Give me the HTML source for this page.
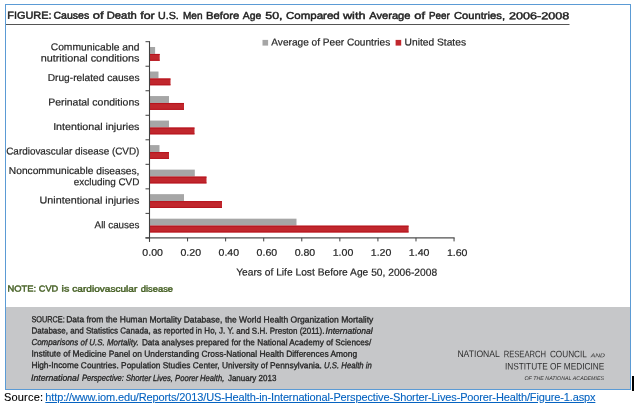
<!DOCTYPE html>
<html lang="en"><head><meta charset="utf-8"><title>FIGURE: Causes of Death for U.S. Men Before Age 50</title>
<style>
html,body{margin:0;padding:0;background:#fff;}
body{width:640px;height:408px;overflow:hidden;position:relative;font-family:"Liberation Sans",sans-serif;}
svg{position:absolute;left:0;top:0;display:block}
text{font-family:"Liberation Sans",sans-serif;}
.src{position:absolute;left:4px;top:390px;font-size:11px;line-height:14px;color:#000;white-space:nowrap;letter-spacing:0px}
.src{-webkit-text-stroke:0.12px currentColor;word-spacing:-0.9px}
.src span{letter-spacing:0.18px}
.src a{color:#0563c1;text-decoration:underline;letter-spacing:-0.133px;-webkit-text-stroke:0.1px #0563c1}
</style></head><body>
<svg width="640" height="408" viewBox="0 0 640 408">
<rect x="5.5" y="4.5" width="625" height="385" fill="#fff" stroke="#5b9bd5" stroke-width="1"/>
<rect x="6" y="307" width="624" height="82" fill="#c6c7c9"/>
<g font-size="10.2" fill="#1f1f1f" stroke="#1f1f1f" stroke-width="0.45"><text transform="rotate(0.04 320 204)" x="7.10" y="19" textLength="44.30" lengthAdjust="spacingAndGlyphs">FIGURE:</text> <text transform="rotate(0.04 320 204)" x="53.35" y="19" textLength="35.80" lengthAdjust="spacingAndGlyphs">Causes</text> <text transform="rotate(0.04 320 204)" x="92.60" y="19" textLength="10.80" lengthAdjust="spacingAndGlyphs">of</text> <text transform="rotate(0.04 320 204)" x="106.60" y="19" textLength="30.05" lengthAdjust="spacingAndGlyphs">Death</text> <text transform="rotate(0.04 320 204)" x="140.10" y="19" textLength="14.55" lengthAdjust="spacingAndGlyphs">for</text> <text transform="rotate(0.04 320 204)" x="157.85" y="19" textLength="20.80" lengthAdjust="spacingAndGlyphs">U.S.</text> <text transform="rotate(0.04 320 204)" x="182.85" y="19" textLength="19.55" lengthAdjust="spacingAndGlyphs">Men</text> <text transform="rotate(0.04 320 204)" x="205.85" y="19" textLength="33.30" lengthAdjust="spacingAndGlyphs">Before</text> <text transform="rotate(0.04 320 204)" x="242.60" y="19" textLength="18.55" lengthAdjust="spacingAndGlyphs">Age</text> <text transform="rotate(0.04 320 204)" x="265.10" y="19" textLength="17.30" lengthAdjust="spacingAndGlyphs">50,</text> <text transform="rotate(0.04 320 204)" x="285.90" y="19" textLength="53.75" lengthAdjust="spacingAndGlyphs">Compared</text> <text transform="rotate(0.04 320 204)" x="342.85" y="19" textLength="22.55" lengthAdjust="spacingAndGlyphs">with</text> <text transform="rotate(0.04 320 204)" x="369.10" y="19" textLength="41.30" lengthAdjust="spacingAndGlyphs">Average</text> <text transform="rotate(0.04 320 204)" x="414.10" y="19" textLength="10.80" lengthAdjust="spacingAndGlyphs">of</text> <text transform="rotate(0.04 320 204)" x="428.85" y="19" textLength="20.80" lengthAdjust="spacingAndGlyphs">Peer</text> <text transform="rotate(0.04 320 204)" x="453.85" y="19" textLength="51.05" lengthAdjust="spacingAndGlyphs">Countries,</text> <text transform="rotate(0.04 320 204)" x="508.85" y="19" textLength="60.30" lengthAdjust="spacingAndGlyphs">2006-2008</text></g>
<rect x="6" y="24" width="563.5" height="1" fill="#555"/>
<rect x="262.5" y="39.9" width="5.6" height="5.7" fill="#a6a6a6"/>
<text transform="rotate(0.04 320 204)" x="271.2" y="45.5" font-size="10" fill="#262626" stroke="#262626" stroke-width="0.2" textLength="118.9" lengthAdjust="spacingAndGlyphs">Average of Peer Countries</text>
<rect x="395.6" y="39.9" width="5.6" height="5.7" fill="#c1272d"/>
<text transform="rotate(0.04 320 204)" x="404.5" y="45.5" font-size="10" fill="#262626" stroke="#262626" stroke-width="0.2" textLength="61.4" lengthAdjust="spacingAndGlyphs">United States</text>
<rect x="149.5" y="47.00" width="5.6" height="6.9" fill="#a6a6a6"/>
<rect x="149.5" y="53.90" width="10.2" height="6.9" fill="#c1272d"/>
<rect x="149.5" y="54.10" width="10.2" height="0.9" fill="#b5121c"/>
<rect x="149.5" y="59.80" width="10.2" height="0.9" fill="#b5121c"/>
<text transform="rotate(0.04 320 204)" x="50.60" y="50.56" font-size="10" fill="#262626" stroke="#262626" stroke-width="0.2" textLength="88.80" lengthAdjust="spacingAndGlyphs">Communicable and</text>
<text transform="rotate(0.04 320 204)" x="40.60" y="61.76" font-size="10" fill="#262626" stroke="#262626" stroke-width="0.2" textLength="98.80" lengthAdjust="spacingAndGlyphs">nutritional conditions</text>
<rect x="149.5" y="71.52" width="9.0" height="6.9" fill="#a6a6a6"/>
<rect x="149.5" y="78.42" width="21.0" height="6.9" fill="#c1272d"/>
<rect x="149.5" y="78.62" width="21.0" height="0.9" fill="#b5121c"/>
<rect x="149.5" y="84.32" width="21.0" height="0.9" fill="#b5121c"/>
<text transform="rotate(0.04 320 204)" x="47.60" y="81.19" font-size="10" fill="#262626" stroke="#262626" stroke-width="0.2" textLength="91.80" lengthAdjust="spacingAndGlyphs">Drug-related causes</text>
<rect x="149.5" y="96.05" width="19.5" height="6.9" fill="#a6a6a6"/>
<rect x="149.5" y="102.95" width="34.5" height="6.9" fill="#c1272d"/>
<rect x="149.5" y="103.15" width="34.5" height="0.9" fill="#b5121c"/>
<rect x="149.5" y="108.85" width="34.5" height="0.9" fill="#b5121c"/>
<text transform="rotate(0.04 320 204)" x="48.10" y="105.71" font-size="10" fill="#262626" stroke="#262626" stroke-width="0.2" textLength="91.30" lengthAdjust="spacingAndGlyphs">Perinatal conditions</text>
<rect x="149.5" y="120.57" width="19.5" height="6.9" fill="#a6a6a6"/>
<rect x="149.5" y="127.47" width="45.0" height="6.9" fill="#c1272d"/>
<rect x="149.5" y="127.67" width="45.0" height="0.9" fill="#b5121c"/>
<rect x="149.5" y="133.38" width="45.0" height="0.9" fill="#b5121c"/>
<text transform="rotate(0.04 320 204)" x="53.10" y="130.24" font-size="10" fill="#262626" stroke="#262626" stroke-width="0.2" textLength="86.30" lengthAdjust="spacingAndGlyphs">Intentional injuries</text>
<rect x="149.5" y="145.10" width="10.0" height="6.9" fill="#a6a6a6"/>
<rect x="149.5" y="152.00" width="19.5" height="6.9" fill="#c1272d"/>
<rect x="149.5" y="152.20" width="19.5" height="0.9" fill="#b5121c"/>
<rect x="149.5" y="157.90" width="19.5" height="0.9" fill="#b5121c"/>
<text transform="rotate(0.04 320 204)" x="6.20" y="154.76" font-size="10" fill="#262626" stroke="#262626" stroke-width="0.2" textLength="133.20" lengthAdjust="spacingAndGlyphs">Cardiovascular disease (CVD)</text>
<rect x="149.5" y="169.62" width="45.3" height="6.9" fill="#a6a6a6"/>
<rect x="149.5" y="176.53" width="57.0" height="6.9" fill="#c1272d"/>
<rect x="149.5" y="176.72" width="57.0" height="0.9" fill="#b5121c"/>
<rect x="149.5" y="182.43" width="57.0" height="0.9" fill="#b5121c"/>
<text transform="rotate(0.04 320 204)" x="8.80" y="174.29" font-size="10" fill="#262626" stroke="#262626" stroke-width="0.2" textLength="130.60" lengthAdjust="spacingAndGlyphs">Noncommunicable diseases,</text>
<text transform="rotate(0.04 320 204)" x="73.80" y="185.49" font-size="10" fill="#262626" stroke="#262626" stroke-width="0.2" textLength="65.60" lengthAdjust="spacingAndGlyphs">excluding CVD</text>
<rect x="149.5" y="194.15" width="34.5" height="6.9" fill="#a6a6a6"/>
<rect x="149.5" y="201.05" width="72.5" height="6.9" fill="#c1272d"/>
<rect x="149.5" y="201.25" width="72.5" height="0.9" fill="#b5121c"/>
<rect x="149.5" y="206.95" width="72.5" height="0.9" fill="#b5121c"/>
<text transform="rotate(0.04 320 204)" x="39.60" y="203.81" font-size="10" fill="#262626" stroke="#262626" stroke-width="0.2" textLength="99.80" lengthAdjust="spacingAndGlyphs">Unintentional injuries</text>
<rect x="149.5" y="218.68" width="147.0" height="6.9" fill="#a6a6a6"/>
<rect x="149.5" y="225.58" width="259.1" height="6.9" fill="#c1272d"/>
<rect x="149.5" y="225.78" width="259.1" height="0.9" fill="#b5121c"/>
<rect x="149.5" y="231.48" width="259.1" height="0.9" fill="#b5121c"/>
<text transform="rotate(0.04 320 204)" x="94.60" y="228.34" font-size="10" fill="#262626" stroke="#262626" stroke-width="0.2" textLength="44.80" lengthAdjust="spacingAndGlyphs">All causes</text>
<path d="M145.5 237.9H454.6" fill="none" stroke="#505050" stroke-width="1.1"/>
<path d="M149.5 41.2V241.9" fill="none" stroke="#404040" stroke-width="1.1"/>
<path d="M145.5 41.70H149.5M145.5 66.22H149.5M145.5 90.75H149.5M145.5 115.27H149.5M145.5 139.80H149.5M145.5 164.32H149.5M145.5 188.85H149.5M145.5 213.38H149.5M145.5 237.90H149.5M149.5 237.9V241.4M187.57 237.9V241.4M225.64 237.9V241.4M263.71000000000004 237.9V241.4M301.78 237.9V241.4M339.85 237.9V241.4M377.92 237.9V241.4M415.99 237.9V241.4M454.06 237.9V241.4" fill="none" stroke="#404040" stroke-width="1"/>
<text transform="rotate(0.04 320 204)" x="142.40" y="255.8" font-size="9.6" fill="#262626" stroke="#262626" stroke-width="0.2" textLength="20.6" lengthAdjust="spacingAndGlyphs">0.00</text>
<text transform="rotate(0.04 320 204)" x="180.47" y="255.8" font-size="9.6" fill="#262626" stroke="#262626" stroke-width="0.2" textLength="20.6" lengthAdjust="spacingAndGlyphs">0.20</text>
<text transform="rotate(0.04 320 204)" x="218.54" y="255.8" font-size="9.6" fill="#262626" stroke="#262626" stroke-width="0.2" textLength="20.6" lengthAdjust="spacingAndGlyphs">0.40</text>
<text transform="rotate(0.04 320 204)" x="256.61" y="255.8" font-size="9.6" fill="#262626" stroke="#262626" stroke-width="0.2" textLength="20.6" lengthAdjust="spacingAndGlyphs">0.60</text>
<text transform="rotate(0.04 320 204)" x="294.68" y="255.8" font-size="9.6" fill="#262626" stroke="#262626" stroke-width="0.2" textLength="20.6" lengthAdjust="spacingAndGlyphs">0.80</text>
<text transform="rotate(0.04 320 204)" x="332.75" y="255.8" font-size="9.6" fill="#262626" stroke="#262626" stroke-width="0.2" textLength="20.6" lengthAdjust="spacingAndGlyphs">1.00</text>
<text transform="rotate(0.04 320 204)" x="370.82" y="255.8" font-size="9.6" fill="#262626" stroke="#262626" stroke-width="0.2" textLength="20.6" lengthAdjust="spacingAndGlyphs">1.20</text>
<text transform="rotate(0.04 320 204)" x="408.89" y="255.8" font-size="9.6" fill="#262626" stroke="#262626" stroke-width="0.2" textLength="20.6" lengthAdjust="spacingAndGlyphs">1.40</text>
<text transform="rotate(0.04 320 204)" x="446.96" y="255.8" font-size="9.6" fill="#262626" stroke="#262626" stroke-width="0.2" textLength="20.6" lengthAdjust="spacingAndGlyphs">1.60</text>
<text transform="rotate(0.04 320 204)" x="236.2" y="275.6" font-size="10.2" fill="#262626" stroke="#262626" stroke-width="0.2" textLength="201" lengthAdjust="spacingAndGlyphs">Years of Life Lost Before Age 50, 2006-2008</text>
<g font-size="8.6" fill="#4a642a" stroke="#4a642a" stroke-width="0.45"><text transform="rotate(0.04 320 204)" x="7.60" y="291.8" textLength="28.70" lengthAdjust="spacingAndGlyphs">NOTE:</text> <text transform="rotate(0.04 320 204)" x="38.80" y="291.8" textLength="19.60" lengthAdjust="spacingAndGlyphs">CVD</text> <text transform="rotate(0.04 320 204)" x="61.70" y="291.8" textLength="7.80" lengthAdjust="spacingAndGlyphs">is</text> <text transform="rotate(0.04 320 204)" x="72.40" y="291.8" textLength="64.90" lengthAdjust="spacingAndGlyphs">cardiovascular</text> <text transform="rotate(0.04 320 204)" x="140.85" y="291.8" textLength="32.30" lengthAdjust="spacingAndGlyphs">disease</text></g>
<text transform="rotate(0.04 320 204)" x="31.5" y="322.5" font-size="8.7" fill="#242424" stroke="#242424" stroke-width="0.3" textLength="33.30" lengthAdjust="spacingAndGlyphs">SOURCE:</text>
<text transform="rotate(0.04 320 204)" x="66.3" y="322.5" font-size="8.7" fill="#242424" stroke="#242424" stroke-width="0.3" textLength="156.10" lengthAdjust="spacingAndGlyphs">Data from the Human Mortality Database,</text>
<text transform="rotate(0.04 320 204)" x="225" y="322.5" font-size="8.7" fill="#242424" stroke="#242424" stroke-width="0.3" textLength="148.40" lengthAdjust="spacingAndGlyphs">the World Health Organization Mortality</text>
<text transform="rotate(0.04 320 204)" x="31.5" y="333.7" font-size="8.7" fill="#242424" stroke="#242424" stroke-width="0.3" textLength="293.10" lengthAdjust="spacingAndGlyphs">Database, and Statistics Canada, as reported in Ho, J. Y. and S.H. Preston (2011).</text>
<text transform="rotate(0.04 320 204)" x="325.6" y="333.7" font-size="8.7" font-style="italic" fill="#242424" stroke="#242424" stroke-width="0.3" textLength="47.20" lengthAdjust="spacingAndGlyphs">International</text>
<text transform="rotate(0.04 320 204)" x="31.5" y="345.3" font-size="8.7" font-style="italic" fill="#242424" stroke="#242424" stroke-width="0.3" textLength="107.25" lengthAdjust="spacingAndGlyphs">Comparisons of U.S. Mortality.</text>
<text transform="rotate(0.04 320 204)" x="142" y="345.3" font-size="8.7" fill="#242424" stroke="#242424" stroke-width="0.3" textLength="87.00" lengthAdjust="spacingAndGlyphs">Data analyses prepared</text>
<text transform="rotate(0.04 320 204)" x="231.5" y="345.3" font-size="8.7" fill="#242424" stroke="#242424" stroke-width="0.3" textLength="139.80" lengthAdjust="spacingAndGlyphs">for the National Academy of Sciences/</text>
<text transform="rotate(0.04 320 204)" x="31.5" y="356.8" font-size="8.7" fill="#242424" stroke="#242424" stroke-width="0.3" textLength="325.80" lengthAdjust="spacingAndGlyphs">Institute of Medicine Panel on Understanding Cross-National Health Differences Among</text>
<text transform="rotate(0.04 320 204)" x="31.5" y="368.3" font-size="8.7" fill="#242424" stroke="#242424" stroke-width="0.3" textLength="290.50" lengthAdjust="spacingAndGlyphs">High-Income Countries. Population Studies Center, University of Pennsylvania.</text>
<text transform="rotate(0.04 320 204)" x="324.2" y="368.3" font-size="8.7" font-style="italic" fill="#242424" stroke="#242424" stroke-width="0.3" textLength="47.80" lengthAdjust="spacingAndGlyphs">U.S. Health in</text>
<text transform="rotate(0.04 320 204)" x="31.2" y="381" font-size="8.7" font-style="italic" fill="#242424" stroke="#242424" stroke-width="0.3" textLength="47.80" lengthAdjust="spacingAndGlyphs">International</text>
<text transform="rotate(0.04 320 204)" x="82" y="381" font-size="8.7" font-style="italic" fill="#242424" stroke="#242424" stroke-width="0.3" textLength="142.40" lengthAdjust="spacingAndGlyphs">Perspective: Shorter Lives, Poorer Health,</text>
<text transform="rotate(0.04 320 204)" x="228" y="381" font-size="8.7" fill="#242424" stroke="#242424" stroke-width="0.3" textLength="48.50" lengthAdjust="spacingAndGlyphs">January 2013</text>
<text transform="rotate(0.04 320 204)" x="457.5" y="357" font-size="9.4" fill="#303030" stroke="#303030" stroke-width="0" textLength="42.50" lengthAdjust="spacingAndGlyphs">NATIONAL</text>
<text transform="rotate(0.04 320 204)" x="503.75" y="357" font-size="9.4" fill="#303030" stroke="#303030" stroke-width="0" textLength="42.50" lengthAdjust="spacingAndGlyphs">RESEARCH</text>
<text transform="rotate(0.04 320 204)" x="550" y="357" font-size="9.4" fill="#303030" stroke="#303030" stroke-width="0" textLength="37.00" lengthAdjust="spacingAndGlyphs">COUNCIL</text>
<text transform="rotate(0.04 320 204)" x="590.75" y="357" font-size="5.6" font-style="italic" fill="#303030" stroke="#303030" stroke-width="0" textLength="14.25" lengthAdjust="spacingAndGlyphs">AND</text>
<text transform="rotate(0.04 320 204)" x="505" y="369.3" font-size="9.4" fill="#303030" stroke="#303030" stroke-width="0" textLength="99.50" lengthAdjust="spacingAndGlyphs">INSTITUTE OF MEDICINE</text>
<text transform="rotate(0.04 320 204)" x="524.5" y="379.8" font-size="5.4" font-style="italic" fill="#303030" stroke="#303030" stroke-width="0" textLength="79.75" lengthAdjust="spacingAndGlyphs">OF THE NATIONAL ACADEMIES</text>
<rect x="632" y="376" width="2" height="15" fill="#000"/>
</svg>
<div class="src"><span>Source:</span> <a>http://www.iom.edu/Reports/2013/US-Health-in-International-Perspective-Shorter-Lives-Poorer-Health/Figure-1.aspx</a></div>
</body></html>
